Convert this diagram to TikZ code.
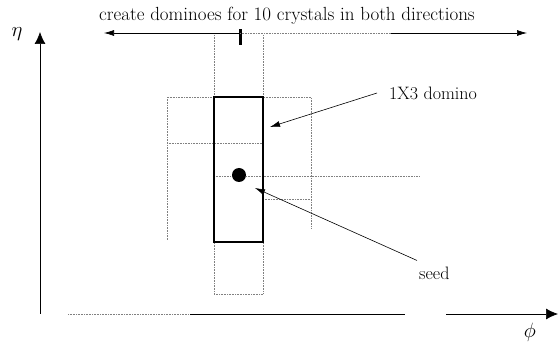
\documentclass[tikz,border=0pt]{standalone}
\usetikzlibrary{arrows.meta}

\tikzset{
  grid/.style={densely dotted, gray, line width=0.6pt},
  lbl/.style={font=\fontsize{18}{20}\selectfont, inner sep=0pt},
  ptr/.style={-{Latex[length=10pt,width=6pt]}, line width=0.6pt},
  axis/.style={-{Latex[length=12pt,width=11pt]}, line width=0.7pt}
}

\begin{document}
\begin{tikzpicture}[x=1pt,y=1pt]
  \useasboundingbox (0,0) rectangle (558,343);

  % Ejes
  \coordinate (o) at (40,29);
  \coordinate (etaend) at (40,311);
  \coordinate (phistart) at (68,29);
  \coordinate (phimid) at (190,29);
  \coordinate (phigap) at (405,29);
  \coordinate (phirest) at (446,29);
  \coordinate (phiend) at (558,29);

  \draw[axis]
    (o) -- (etaend);
  \node[lbl, font=\fontsize{22}{24}\selectfont] (eta) at (17,309) {$\eta$};

  \draw[grid]
    (phistart) -- (phimid);
  \draw[line width=0.7pt]
    (phimid) -- (phigap);
  \draw[axis]
    (phirest) -- (phiend);
  \node[lbl, font=\fontsize{22}{24}\selectfont] (phi) at (530,11) {$\phi$};

  % Rejilla de fichas vecinas
  \draw[grid] (214,308) -- (214,49) -- (263,49) -- (263,308);
  \draw[grid] (167,103) -- (167,246) -- (311,246) -- (311,115);
  \draw[grid] (167,200) -- (263,200);
  \draw[grid] (263,144) -- (311,144);
  \draw[grid] (214,167) -- (420,167);

  % Ficha 1X3 y semilla
  \node[draw, line width=1.6pt, minimum width=49pt, minimum height=145pt,
        inner sep=0pt] (domino) at (238.5,173.5) {};
  \node[circle, fill, minimum size=14pt, inner sep=0pt] (seed) at (239,168) {};

  % Direcciones
  \coordinate (tick) at (240,310);
  \coordinate (leftend) at (104,310);
  \coordinate (rightmid) at (391,310);
  \coordinate (rightend) at (527,310);

  \draw[line width=3pt]
    (240,298) -- (240,314);
  \draw[ptr]
    (tick) -- (leftend);
  \draw[grid]
    (tick) -- (rightmid);
  \draw[ptr]
    (rightmid) -- (rightend);

  \node[lbl, font=\fontsize{19}{21}\selectfont] (lbltop) at (287,327)
    {create dominoes for 10 crystals in both directions};

  % Etiquetas
  \node[lbl, anchor=west] (lbldomino) at (389,250) {1X3 domino};
  \node[lbl, anchor=west] (lblseed) at (419,70) {seed};

  \coordinate (dominotip) at (270,216);
  \coordinate (seedtip) at (255,155);

  \draw[ptr]
    ([xshift=-12pt]lbldomino.west) -- (dominotip);
  \draw[ptr]
    ([shift={(-2pt,6pt)}]lblseed.north west) -- (seedtip);

\end{tikzpicture}
\end{document}
